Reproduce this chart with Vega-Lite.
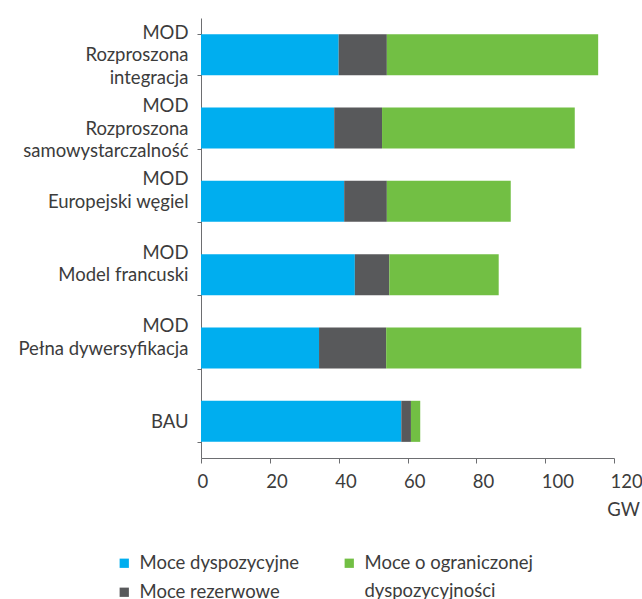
{
  "$schema": "https://vega.github.io/schema/vega-lite/v6.json",
  "width": 413,
  "height": 440,
  "autosize": {"type": "none"},
  "padding": {"left": 201, "top": 18, "right": 28, "bottom": 141},
  "config": {"view": {"stroke": null}, "font": "Lato", "style": {"guide-label": {"lineHeight": 28}}},
  "data": {
    "values": [
      {"scenario": "MOD|Rozproszona|integracja", "category": "Moce dyspozycyjne", "ord": 1, "value": 40.0},
      {"scenario": "MOD|Rozproszona|integracja", "category": "Moce rezerwowe", "ord": 2, "value": 14.0},
      {"scenario": "MOD|Rozproszona|integracja", "category": "Moce o ograniczonej dyspozycyjności", "ord": 3, "value": 61.4},
      {"scenario": "MOD|Rozproszona|samowystarczalność", "category": "Moce dyspozycyjne", "ord": 1, "value": 38.7},
      {"scenario": "MOD|Rozproszona|samowystarczalność", "category": "Moce rezerwowe", "ord": 2, "value": 13.9},
      {"scenario": "MOD|Rozproszona|samowystarczalność", "category": "Moce o ograniczonej dyspozycyjności", "ord": 3, "value": 56.0},
      {"scenario": "MOD|Europejski węgiel", "category": "Moce dyspozycyjne", "ord": 1, "value": 41.6},
      {"scenario": "MOD|Europejski węgiel", "category": "Moce rezerwowe", "ord": 2, "value": 12.4},
      {"scenario": "MOD|Europejski węgiel", "category": "Moce o ograniczonej dyspozycyjności", "ord": 3, "value": 36.0},
      {"scenario": "MOD|Model francuski", "category": "Moce dyspozycyjne", "ord": 1, "value": 44.7},
      {"scenario": "MOD|Model francuski", "category": "Moce rezerwowe", "ord": 2, "value": 10.0},
      {"scenario": "MOD|Model francuski", "category": "Moce o ograniczonej dyspozycyjności", "ord": 3, "value": 31.8},
      {"scenario": "MOD|Pełna dywersyfikacja", "category": "Moce dyspozycyjne", "ord": 1, "value": 34.3},
      {"scenario": "MOD|Pełna dywersyfikacja", "category": "Moce rezerwowe", "ord": 2, "value": 19.5},
      {"scenario": "MOD|Pełna dywersyfikacja", "category": "Moce o ograniczonej dyspozycyjności", "ord": 3, "value": 56.7},
      {"scenario": "BAU", "category": "Moce dyspozycyjne", "ord": 1, "value": 58.2},
      {"scenario": "BAU", "category": "Moce rezerwowe", "ord": 2, "value": 2.8},
      {"scenario": "BAU", "category": "Moce o ograniczonej dyspozycyjności", "ord": 3, "value": 2.7}
    ]
  },
  "transform": [
    {"stack": "value", "groupby": ["scenario"], "sort": [{"field": "ord", "order": "ascending"}], "as": ["x0", "x1"]}
  ],
  "encoding": {
    "y": {
      "field": "scenario",
      "type": "nominal",
      "sort": null,
      "scale": {"paddingInner": 0.44, "paddingOuter": 0.22},
      "axis": {
        "title": null,
        "tickBand": "extent",
        "labelExpr": "indexof(datum.label, '|') < 0 ? ['', datum.label] : split(datum.label, '|')",
        "labelOffset": -22.5,
        "labelFont": "Lato",
        "labelFontSize": 18.5,
        "labelColor": "#3c3c3c",
        "labelLineHeight": 22.5,
        "labelPadding": 9,
        "labelLimit": 300,
        "labelBaseline": "middle",
        "tickSize": 4,
        "tickColor": "#6d6e71",
        "domainColor": "#6d6e71"
      }
    },
    "x": {
      "field": "x0",
      "type": "quantitative",
      "scale": {"domain": [0, 120], "nice": false},
      "axis": {
        "values": [0, 20, 40, 60, 80, 100, 120],
        "grid": false,
        "title": "GW",
        "titleX": 422,
        "titleY": 51,
        "titleAlign": "center",
        "titleBaseline": "middle",
        "titleFont": "Lato",
        "titleFontWeight": "normal",
        "titleFontSize": 18.5,
        "titleColor": "#3c3c3c",
        "labelFont": "Lato",
        "labelFontSize": 18.5,
        "labelColor": "#3c3c3c",
        "labelAlign": "left",
        "labelOffset": -4,
        "labelPadding": 9,
        "tickSize": 5,
        "tickColor": "#6d6e71",
        "domainColor": "#6d6e71"
      }
    },
    "x2": {"field": "x1"}
  },
  "layer": [
    {
      "transform": [{"filter": "datum.category != 'Moce o ograniczonej dyspozycyjności'"}],
      "mark": {"type": "bar"},
      "encoding": {
        "color": {
          "field": "category",
          "type": "nominal",
          "scale": {"domain": ["Moce dyspozycyjne", "Moce rezerwowe"], "range": ["#00AEEF", "#58595B"]},
          "legend": {
            "title": null,
            "orient": "none",
            "direction": "vertical",
            "legendX": -86,
            "legendY": 536,
            "rowPadding": 10,
            "padding": 0,
            "symbolType": "square",
            "symbolSize": 86,
            "symbolStrokeWidth": 0,
            "labelOffset": 6,
            "labelFont": "Lato",
            "labelFontSize": 18.5,
            "labelColor": "#3c3c3c",
            "labelLimit": 300
          }
        }
      }
    },
    {
      "transform": [{"filter": "datum.category == 'Moce o ograniczonej dyspozycyjności'"}],
      "mark": {"type": "bar"},
      "encoding": {
        "fill": {
          "field": "category",
          "type": "nominal",
          "scale": {"domain": ["Moce o ograniczonej dyspozycyjności"], "range": ["#72BF44"]},
          "legend": {
            "title": null,
            "orient": "none",
            "direction": "vertical",
            "legendX": 139,
            "legendY": 536,
            "padding": 0,
            "symbolType": "square",
            "symbolSize": 86,
            "symbolStrokeWidth": 0,
            "labelOffset": 6,
            "labelFont": "Lato",
            "labelFontSize": 18.5,
            "labelColor": "#3c3c3c",
            "labelLimit": 300,
            "labelExpr": "['Moce o ograniczonej', 'dyspozycyjności']"
          }
        }
      }
    }
  ]
}
